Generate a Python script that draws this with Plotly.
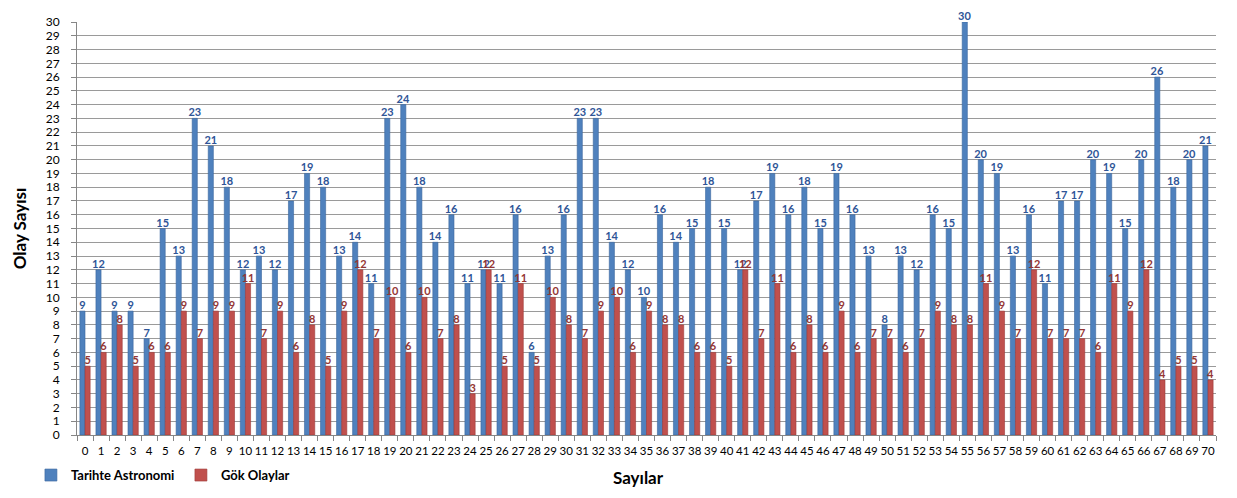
import plotly.graph_objects as go

categories = [str(i) for i in range(71)]
tarihte_astronomi = [9, 12, 9, 9, 7, 15, 13, 23, 21, 18, 12, 13, 12, 17, 19, 18, 13, 14, 11, 23,
                     24, 18, 14, 16, 11, 12, 11, 16, 6, 13, 16, 23, 23, 14, 12, 10, 16, 14, 15, 18,
                     15, 12, 17, 19, 16, 18, 15, 19, 16, 13, 8, 13, 12, 16, 15, 30, 20, 19, 13, 16,
                     11, 17, 17, 20, 19, 15, 20, 26, 18, 20, 21]
gok_olaylar = [5, 6, 8, 5, 6, 6, 9, 7, 9, 9, 11, 7, 9, 6, 8, 5, 9, 12, 7, 10,
               6, 10, 7, 8, 3, 12, 5, 11, 5, 10, 8, 7, 9, 10, 6, 9, 8, 8, 6, 6,
               5, 12, 7, 11, 6, 8, 6, 9, 6, 7, 7, 6, 7, 9, 8, 8, 11, 9, 7, 12,
               7, 7, 7, 6, 11, 9, 12, 4, 5, 5, 4]
y_ticks = list(range(0, 31))

FONT = "Lato, 'Open Sans', sans-serif"

fig = go.Figure()
fig.add_trace(go.Bar(
    x=categories, y=tarihte_astronomi, name="Tarihte Astronomi",
    marker=dict(color="#4F81BD", line=dict(color="#3A679E", width=0.6)),
    text=tarihte_astronomi, textposition="outside", constraintext="none",
    textfont=dict(family=FONT, size=11, color="#2F5597", weight="bold"),
    cliponaxis=False,
))
fig.add_trace(go.Bar(
    x=categories, y=gok_olaylar, name="Gök Olaylar",
    marker=dict(color="#C0504D", line=dict(color="#9E3B39", width=0.6)),
    text=gok_olaylar, textposition="outside", constraintext="none",
    textfont=dict(family=FONT, size=11, color="#943634", weight="bold"),
    cliponaxis=False,
))

fig.update_layout(
    width=1237, height=498,
    margin=dict(l=77, r=21, t=22, b=63, autoexpand=False),
    paper_bgcolor="white", plot_bgcolor="white",
    barmode="group", bargap=0.36, bargroupgap=0,
    font=dict(family=FONT, color="#000000"),
    showlegend=True,
    legend=dict(
        orientation="h", xref="container", yref="container",
        x=0.025, y=0.046, xanchor="left", yanchor="middle",
        font=dict(family=FONT, size=13, color="#000000", weight="bold"),
        itemwidth=30, entrywidth=105, entrywidthmode="pixels",
        bgcolor="rgba(0,0,0,0)",
    ),
    xaxis=dict(
        type="category", tickson="boundaries", ticks="outside", ticklen=5,
        tickangle=0, automargin=False, ticklabelstandoff=5,
        tickcolor="#868686", showline=True, linecolor="#868686", linewidth=1,
        showgrid=False, tickfont=dict(family=FONT, size=11.5, color="#000000"),
    ),
    yaxis=dict(
        range=[0, 30], tickvals=y_ticks, ticks="outside", ticklen=5,
        automargin=False, ticklabelstandoff=9,
        tickcolor="#868686", showline=True, linecolor="#868686", linewidth=1,
        showgrid=True, gridcolor="#9A9A9A", gridwidth=1, zeroline=False,
        tickfont=dict(family=FONT, size=12, color="#000000"),
        title=dict(text="Olay Sayısı", font=dict(family=FONT, size=17, color="#000000", weight="bold"),
                   standoff=14),
    ),
    annotations=[dict(
        text="Sayılar", xref="paper", yref="paper", x=0.493, y=-0.104,
        xanchor="center", yanchor="middle", showarrow=False,
        font=dict(family=FONT, size=17, color="#000000", weight="bold"),
    )],
)

fig.write_html("out.html")
